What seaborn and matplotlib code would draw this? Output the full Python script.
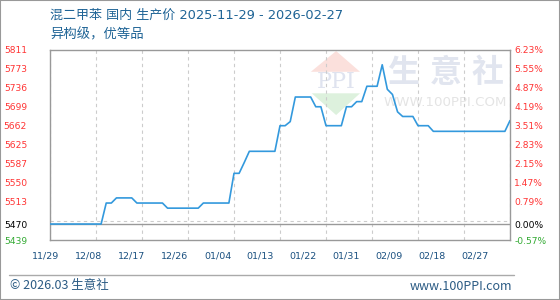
import numpy as np
import pandas as pd
import matplotlib
matplotlib.use("Agg")
import matplotlib.pyplot as plt
import seaborn as sns
from matplotlib.transforms import ScaledTranslation
from matplotlib.patches import Polygon, Rectangle
from matplotlib.lines import Line2D

# ---------------- data ----------------
title_line1 = "混二甲苯 国内 生产价 2025-11-29 - 2026-02-27"
title_line2 = "异构级，优等品"
start_date = "2025-11-29"
end_date = "2026-02-27"

prices = [
    5470, 5470, 5470, 5470, 5470, 5470, 5470, 5470, 5470, 5470, 5470,   # 11/29 - 12/09
    5511, 5511, 5521, 5521, 5521, 5521, 5511, 5511, 5511, 5511, 5511, 5511,  # 12/10 - 12/21
    5501, 5501, 5501, 5501, 5501, 5501, 5501,                            # 12/22 - 12/28
    5511, 5511, 5511, 5511, 5511, 5511,                                  # 12/29 - 01/03
    5569, 5569, 5590, 5612, 5612, 5612, 5612, 5612, 5612,                # 01/04 - 01/12
    5662, 5662, 5670, 5718, 5718, 5718, 5718,                            # 01/13 - 01/19
    5699, 5699, 5662, 5662, 5662, 5662,                                  # 01/20 - 01/25
    5699, 5699, 5709, 5709, 5739, 5739, 5739, 5781,                      # 01/26 - 02/02
    5733, 5723, 5689, 5680, 5680, 5680, 5662, 5662, 5662,                # 02/03 - 02/11
    5651, 5651, 5651, 5651, 5651, 5651, 5651, 5651, 5651, 5651,
    5651, 5651, 5651, 5651, 5651,                                        # 02/12 - 02/26
    5672,                                                                # 02/27
]
base_price = 5470

grid_pct = [-0.57, 0.11, 0.79, 1.47, 2.15, 2.83, 3.51, 4.19, 4.87, 5.55, 6.23]
label_pct = [-0.57, 0.00, 0.79, 1.47, 2.15, 2.83, 3.51, 4.19, 4.87, 5.55, 6.23]
left_labels = ["5439", "5470", "5513", "5550", "5587", "5625",
               "5662", "5699", "5736", "5773", "5811"]
right_labels = ["-0.57%", "0.00%", "0.79%", "1.47%", "2.15%", "2.83%",
                "3.51%", "4.19%", "4.87%", "5.55%", "6.23%"]
x_tick_labels = ["11/29", "12/08", "12/17", "12/26", "01/04", "01/13",
                 "01/22", "01/31", "02/09", "02/18", "02/27"]
footer_left = "© 2026.03 生意社"
footer_right = "www.100PPI.com"

# ---------------- style ----------------
sns.set_theme(style="white")
plt.rcParams['font.family'] = ['DejaVu Sans', 'Noto Sans CJK SC']

RED = "#ff3333"
GREEN = "#33aa33"
BLACK = "#000000"
LINE = "#3399dd"
GRID = "#cccccc"
FRAME = "#999999"
NAVY = "#1a5080"
CJK = ['Noto Sans CJK SC', 'DejaVu Sans']
MIXED = ['DejaVu Sans', 'Noto Sans CJK SC']

dates = pd.date_range(start_date, end_date, freq="D")
df = pd.DataFrame({"date": dates, "price": prices})

fig = plt.figure(figsize=(5.6, 3.0), dpi=100)
ax = fig.add_axes([50 / 560, 60 / 300, 460 / 560, 190.5 / 300])

ymin = base_price * (1 + label_pct[0] / 100)
ymax = base_price * (1 + label_pct[-1] / 100)

# watermark (decoration, axes fraction coordinates)
ax.add_patch(Polygon([[0.622, 0.992], [0.567, 0.883], [0.674, 0.883]],
                     closed=True, transform=ax.transAxes, color="#fbe0dc",
                     lw=0, zorder=0.2))
ax.add_patch(Polygon([[0.569, 0.770], [0.674, 0.770], [0.622, 0.656]],
                     closed=True, transform=ax.transAxes, color="#ddf1dd",
                     lw=0, zorder=0.2))
ax.text(0.622, 0.828, "PPI", transform=ax.transAxes, ha="center", va="center",
        fontsize=16, family="DejaVu Serif", color="#dfe3ef", zorder=0.3)
for cx, ch in zip([0.767, 0.861, 0.952], "生意社"):
    ax.text(cx, 0.877, ch, transform=ax.transAxes, ha="center", va="center",
            fontsize=23, family=CJK, fontweight="bold", color="#e1e5ef", zorder=0.3)
ax.text(0.859, 0.724, "WWW.100PPI.COM", transform=ax.transAxes, ha="center",
        va="center", fontsize=9.6, color="#e4e4e4", zorder=0.3)

sns.lineplot(data=df, x="date", y="price", ax=ax, color=LINE, lw=1.2, zorder=3)

ax.set_xlim(dates[0], dates[-1])
ax.set_ylim(ymin, ymax)
ax.set_xlabel("")
ax.set_ylabel("")

# grid
ax.set_yticks([base_price * (1 + p / 100) for p in grid_pct], minor=True)
ax.set_yticks([base_price * (1 + p / 100) for p in label_pct])
ax.set_yticklabels(left_labels)
ax.set_xticks(dates[::9])
ax.set_xticklabels(x_tick_labels)
ax.grid(False)
ax.grid(True, which="minor", axis="y", color=GRID, lw=0.8, ls=(0, (3, 3)), zorder=1)
ax.grid(True, which="major", axis="x", color=GRID, lw=0.8, ls=(0, (3, 3)), zorder=1)
ax.axhline(base_price, color=FRAME, lw=1.0, zorder=2)

for s in ax.spines.values():
    s.set_visible(True)
    s.set_color(FRAME)
    s.set_linewidth(1.0)

ax.tick_params(axis="both", which="both", length=0)
ax.tick_params(axis="y", labelsize=6.6, pad=16.5)
ax.tick_params(axis="x", labelsize=6.8, pad=8.3, labelcolor=NAVY)

colors = [GREEN, BLACK] + [RED] * 9
for lab, c in zip(ax.get_yticklabels(), colors):
    lab.set_color(c)

# x labels in the reference drift left progressively
for i, lab in enumerate(ax.get_xticklabels()):
    dx = -(4 + 3.1 * i) / 100.0
    lab.set_transform(lab.get_transform() + ScaledTranslation(dx, 0, fig.dpi_scale_trans))

ax2 = ax.twinx()
ax2.set_ylim(ymin, ymax)
ax2.set_yticks([base_price * (1 + p / 100) for p in label_pct])
ax2.set_yticklabels(right_labels)
ax2.tick_params(axis="y", length=0, labelsize=6.6, pad=3)
ax2.grid(False)
for s in ax2.spines.values():
    s.set_visible(False)
for lab, c in zip(ax2.get_yticklabels(), colors):
    lab.set_color(c)

# titles
fig.text(50 / 560, 1 - 15 / 300, title_line1, ha="left", va="center",
         fontsize=9.4, family=MIXED, color="#1f6496")
fig.text(50 / 560, 1 - 34 / 300, title_line2, ha="left", va="center",
         fontsize=9.6, family=CJK, color="#1f6496")

# footer
fig.add_artist(Line2D([9 / 560, 514 / 560], [1 - 275 / 300, 1 - 275 / 300],
                      transform=fig.transFigure, color="#aaaaaa", lw=1.0))
fig.text(10 / 560, 1 - 286 / 300, footer_left, ha="left", va="center",
         fontsize=9, family=CJK, color="#2b5b84")
fig.text(512 / 560, 1 - 286 / 300, footer_right, ha="right", va="center",
         fontsize=9, family=CJK, color="#2b5b84")

fig.add_artist(Rectangle((0, 0), 1, 1, transform=fig.transFigure, fill=False,
                         edgecolor="#999999", lw=1.5))

fig.savefig("out.png", dpi=100)
